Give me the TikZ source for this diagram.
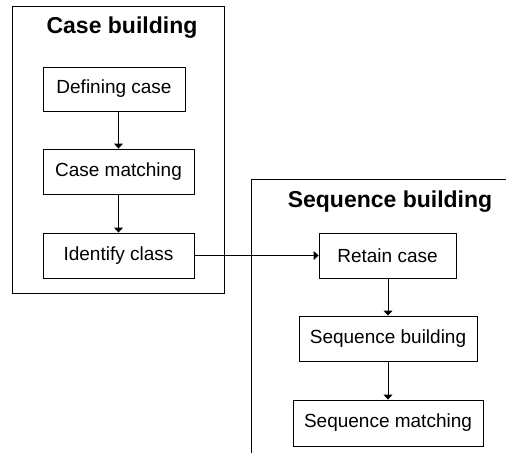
\documentclass[tikz,border=0pt]{standalone}
\usepackage{fontspec}
\setmainfont{Liberation Sans}
\usetikzlibrary{arrows.meta}
\begin{document}
\begin{tikzpicture}[x=1pt,y=-1pt,
  box/.style={draw, line width=0.9pt, inner sep=0pt, font=\fontsize{19}{22}\selectfont},
  title/.style={inner sep=0pt, font=\fontsize{23}{26}\selectfont\bfseries},
  frame/.style={draw, line width=0.9pt, inner sep=0pt},
  arr/.style={line width=0.9pt, -{Triangle[length=5pt,width=9pt]}}]
\useasboundingbox (0,0) rectangle (506,455);
% Case building frame
\node[frame, minimum width=212pt, minimum height=287pt] (cbframe) at (118,149.5) {};
\node[title] (cbtitle) at (122,28) {Case building};
\node[box, minimum width=142pt, minimum height=44pt] (dc) at (114,89) {Defining case};
\node[box, minimum width=151pt, minimum height=45pt] (cm) at (118.5,171.5) {Case matching};
\node[box, minimum width=151pt, minimum height=45pt] (ic) at (118.5,255.5) {Identify class};
% Sequence building open frame
\coordinate (sbtr) at (506,179);
\coordinate (sbtl) at (251,179);
\coordinate (sbbl) at (251,453);
\draw[line width=0.9pt] (sbtr) -- (sbtl) -- (sbbl);
\node[title] (sbtitle) at (390,202) {Sequence building};
\node[box, minimum width=137pt, minimum height=45pt] (rc) at (387.5,255.5) {Retain case};
\node[box, minimum width=178pt, minimum height=45pt] (sb) at (388,338.5) {Sequence building};
\node[box, minimum width=190pt, minimum height=46pt] (sm) at (388,423) {Sequence matching};
% connectors
\draw[arr] (dc.south -| cm.north) -- (cm.north);
\draw[arr] (cm.south) -- (ic.north);
\draw[arr] (ic.east) -- (rc.west);
\draw[arr] (rc.south -| sb.north) -- (sb.north);
\draw[arr] (sb.south) -- (sm.north);
\end{tikzpicture}
\end{document}
